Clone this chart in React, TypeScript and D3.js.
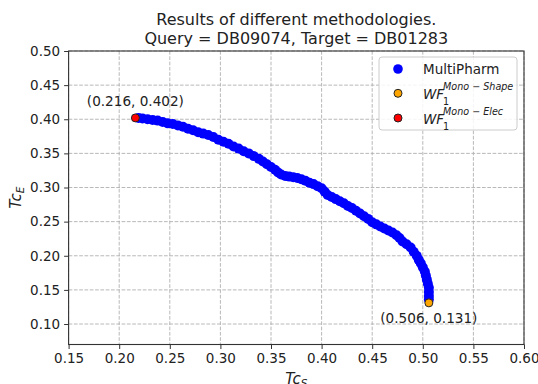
import { useRef, useEffect } from 'react';
import * as d3 from 'd3';

// MultiPharm front (TcS, TcE)
const multiPharmX = [
  0.219, 0.223, 0.228, 0.233, 0.238, 0.243, 0.248, 0.253, 0.258, 0.263,
  0.268, 0.273, 0.278, 0.283, 0.288, 0.293, 0.298, 0.303, 0.308, 0.313,
  0.318, 0.323, 0.328, 0.333, 0.338, 0.342, 0.346, 0.350, 0.354, 0.357,
  0.360, 0.364, 0.368, 0.372, 0.376, 0.380, 0.384, 0.388, 0.392, 0.396,
  0.400, 0.403, 0.406, 0.410, 0.414, 0.418, 0.422, 0.426, 0.430, 0.434,
  0.438, 0.442, 0.446, 0.450, 0.454, 0.458, 0.462, 0.466, 0.470, 0.474,
  0.477, 0.480, 0.484, 0.488, 0.491, 0.494, 0.496, 0.498, 0.500, 0.502,
  0.503, 0.504, 0.505, 0.506, 0.506, 0.506, 0.506,
];
const multiPharmY = [
  0.402, 0.401, 0.400, 0.399, 0.398, 0.396, 0.394, 0.393, 0.391, 0.389,
  0.386, 0.384, 0.381, 0.379, 0.377, 0.374, 0.370, 0.367, 0.364, 0.360,
  0.357, 0.353, 0.350, 0.346, 0.342, 0.338, 0.334, 0.330, 0.326, 0.322,
  0.319, 0.317, 0.316, 0.315, 0.314, 0.312, 0.310, 0.307, 0.305, 0.302,
  0.299, 0.294, 0.289, 0.286, 0.283, 0.280, 0.277, 0.273, 0.270, 0.266,
  0.262, 0.258, 0.254, 0.249, 0.246, 0.243, 0.240, 0.237, 0.234, 0.230,
  0.226, 0.221, 0.217, 0.212, 0.206, 0.200, 0.194, 0.189, 0.183, 0.177,
  0.171, 0.165, 0.159, 0.153, 0.147, 0.141, 0.136,
];

const shapePoint = { x: 0.506, y: 0.131 };
const elecPoint = { x: 0.216, y: 0.402 };

const xTicks = [0.15, 0.2, 0.25, 0.3, 0.35, 0.4, 0.45, 0.5, 0.55, 0.6];
const yTicks = [0.1, 0.15, 0.2, 0.25, 0.3, 0.35, 0.4, 0.45, 0.5];

const titleLines = ['Results of different methodologies.', 'Query = DB09074, Target = DB01283'];

const FONT = '"DejaVu Sans", sans-serif';

export default function App() {
  const svgRef = useRef<SVGSVGElement>(null);

  useEffect(() => {
    if (!svgRef.current) return;
    const svg = d3.select(svgRef.current);
    svg.selectAll('*').remove();

    const left = 68.6, right = 524, top = 51, bottom = 344.5;
    const x = d3.scaleLinear().domain([0.15, 0.6]).range([left, right]);
    const y = d3.scaleLinear().domain([0.07, 0.5]).range([bottom, top]);

    svg.append('rect').attr('width', 538).attr('height', 384).attr('fill', '#fff');

    // grid
    const grid = svg.append('g').attr('stroke', '#b0b0b0').attr('stroke-width', 0.9).attr('stroke-dasharray', '3.7,1.6');
    xTicks.forEach((t) => {
      grid.append('line').attr('x1', x(t)).attr('x2', x(t)).attr('y1', top).attr('y2', bottom);
    });
    yTicks.forEach((t) => {
      grid.append('line').attr('x1', left).attr('x2', right).attr('y1', y(t)).attr('y2', y(t));
    });

    // axes
    const xAxis = svg.append('g').attr('transform', `translate(0,${bottom})`)
      .call(d3.axisBottom(x).tickValues(xTicks).tickFormat(d3.format('.2f')).tickSize(4.5).tickPadding(4));
    const yAxis = svg.append('g').attr('transform', `translate(${left},0)`)
      .call(d3.axisLeft(y).tickValues(yTicks).tickFormat(d3.format('.2f')).tickSize(4.5).tickPadding(4));
    [xAxis, yAxis].forEach((a) => {
      a.select('.domain').remove();
      a.selectAll('line').attr('stroke', '#333').attr('stroke-width', 1);
      a.selectAll('text').attr('font-family', FONT).attr('font-size', 13.5).attr('fill', '#222');
    });

    // frame
    svg.append('rect').attr('x', left).attr('y', top).attr('width', right - left).attr('height', bottom - top)
      .attr('fill', 'none').attr('stroke', '#333').attr('stroke-width', 1.1);

    // multipharm points
    svg.append('g').selectAll('circle').data(multiPharmX).join('circle')
      .attr('cx', (d) => x(d))
      .attr('cy', (_d, i) => y(multiPharmY[i]))
      .attr('r', 5)
      .attr('fill', '#0000ff');

    const marker = (p: { x: number; y: number }, color: string) => {
      svg.append('circle').attr('cx', x(p.x)).attr('cy', y(p.y)).attr('r', 4)
        .attr('fill', color).attr('stroke', '#222').attr('stroke-width', 1);
    };
    marker(shapePoint, '#ffa500');
    marker(elecPoint, '#ff0000');

    const annot = (p: { x: number; y: number }, dy: number) => {
      svg.append('text').attr('x', x(p.x)).attr('y', y(p.y) + dy)
        .attr('text-anchor', 'middle').attr('font-family', FONT).attr('font-size', 13.6).attr('fill', '#222')
        .text(`(${p.x.toFixed(3)}, ${p.y.toFixed(3)})`);
    };
    annot(elecPoint, -12);
    annot(shapePoint, 20);

    // title
    titleLines.forEach((t, i) => {
      svg.append('text').attr('x', (left + right) / 2).attr('y', 25 + i * 18.5)
        .attr('text-anchor', 'middle').attr('font-family', FONT).attr('font-size', 16).attr('fill', '#222').text(t);
    });

    // axis labels
    const xl = svg.append('text').attr('x', (left + right) / 2).attr('y', 384)
      .attr('text-anchor', 'middle').attr('font-family', FONT).attr('fill', '#222');
    xl.append('tspan').attr('font-style', 'italic').attr('font-size', 15).text('Tc');
    xl.append('tspan').attr('font-style', 'italic').attr('font-size', 10.5).attr('dy', 3).text('S');

    const yl = svg.append('text').attr('transform', `translate(21,${(top + bottom) / 2}) rotate(-90)`)
      .attr('text-anchor', 'middle').attr('font-family', FONT).attr('fill', '#222');
    yl.append('tspan').attr('font-style', 'italic').attr('font-size', 15).text('Tc');
    yl.append('tspan').attr('font-style', 'italic').attr('font-size', 10.5).attr('dy', 3).text('E');

    // legend
    const lg = svg.append('g');
    lg.append('rect').attr('x', 379).attr('y', 57).attr('width', 138).attr('height', 73).attr('rx', 3)
      .attr('fill', '#fff').attr('fill-opacity', 0.85).attr('stroke', '#cccccc').attr('stroke-width', 1);
    const rows = [69, 93.3, 118];
    lg.append('circle').attr('cx', 398).attr('cy', rows[0]).attr('r', 4.8).attr('fill', '#0000ff');
    lg.append('text').attr('x', 423).attr('y', rows[0] + 5).attr('font-family', FONT).attr('font-size', 13.5)
      .attr('fill', '#222').text('MultiPharm');
    const wfRow = (cy: number, color: string, sup: string) => {
      lg.append('circle').attr('cx', 398).attr('cy', cy).attr('r', 4).attr('fill', color)
        .attr('stroke', '#222').attr('stroke-width', 1);
      lg.append('text').attr('x', 423).attr('y', cy + 6).attr('font-family', FONT).attr('font-size', 13.5)
        .attr('font-style', 'italic').attr('fill', '#222').text('WF');
      lg.append('text').attr('x', 443).attr('y', cy - 3.3).attr('font-family', FONT).attr('font-size', 9.6)
        .attr('font-style', 'italic').attr('fill', '#222').text(sup);
      lg.append('text').attr('x', 443).attr('y', cy + 11.5).attr('font-family', FONT).attr('font-size', 9.6)
        .attr('fill', '#222').text('1');
    };
    wfRow(rows[1], '#ffa500', 'Mono \u2212 Shape');
    wfRow(rows[2], '#ff0000', 'Mono \u2212 Elec');
  }, []);

  return (
    <svg ref={svgRef} width={538} height={384}
      style={{ position: 'absolute', left: 0, top: 0, display: 'block' }} />
  );
}
